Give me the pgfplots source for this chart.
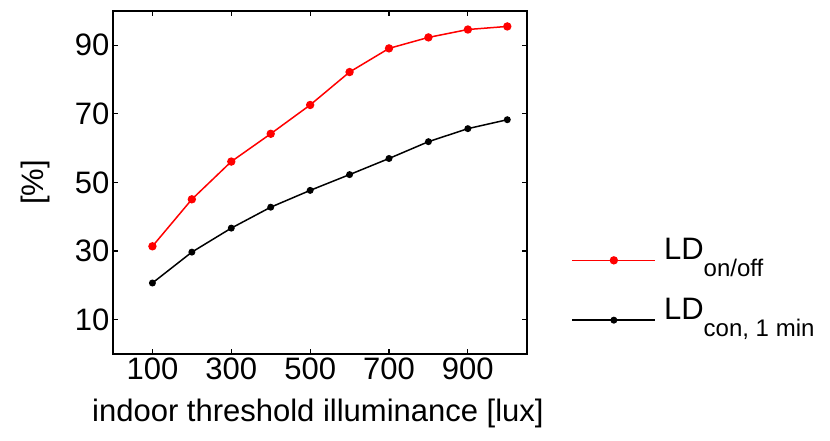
\documentclass[border=0pt]{standalone}
\usepackage{fontspec}
\setmainfont{Liberation Sans}
\usepackage{pgfplots}
\pgfplotsset{compat=1.18}
\newcommand{\lsub}[1]{\smash{\lower17pt\hbox{\fontsize{24}{26}\selectfont #1}}}
\begin{document}
\begin{tikzpicture}
\begin{axis}[
  scale only axis,
  width=414pt, height=343pt,
  xmin=0, xmax=1050, ymin=0, ymax=100,
  xtick={100,300,500,700,900},
  ytick={10,30,50,70,90},
  axis line style={line width=1.8pt},
  tick style={line width=1.2pt, black},
  major tick length=5pt,
  tick align=inside,
  /pgf/number format/assume math mode=true,
  ticklabel style={font=\fontsize{31}{36}\selectfont},
  label style={font=\fontsize{31}{36}\selectfont},
  xlabel={indoor threshold illuminance [lux]},
  ylabel={[\%]},
  ylabel style={at={(axis description cs:-0.188,0.5)}, anchor=center},
  xlabel style={at={(axis description cs:0.495,-0.172)}, anchor=center},
  legend cell align=left,
  legend style={draw=none, fill=none, at={(axis description cs:1.10,0.2175)}, anchor=west,
    font=\fontsize{31}{36}\selectfont, row sep=32pt},
  legend image code/.code={\draw[yshift=-11pt,mark repeat=2,mark phase=2,#1] plot coordinates {(0pt,0pt) (41.5pt,0pt) (83pt,0pt)};
    \path (89pt,0pt);},
  clip=false,
]
\addplot[red, line width=1.5pt, mark=*, mark size=3.4pt] coordinates {
(100,31.4) (200,45.1) (300,56.1) (400,64.2) (500,72.6) (600,82.2) (700,89.1) (800,92.3) (900,94.6) (1000,95.5)};
\addlegendentry{LD\lsub{on/off}}
\addplot[black, line width=1.5pt, mark=*, mark size=2.7pt] coordinates {
(100,20.7) (200,29.7) (300,36.7) (400,42.8) (500,47.7) (600,52.3) (700,57.0) (800,61.9) (900,65.7) (1000,68.3)};
\addlegendentry{LD\lsub{con, 1 min}}
\end{axis}
\path (current axis.south west) ++(-113pt,-87pt) rectangle ++(830pt,441pt);
\end{tikzpicture}
\end{document}
